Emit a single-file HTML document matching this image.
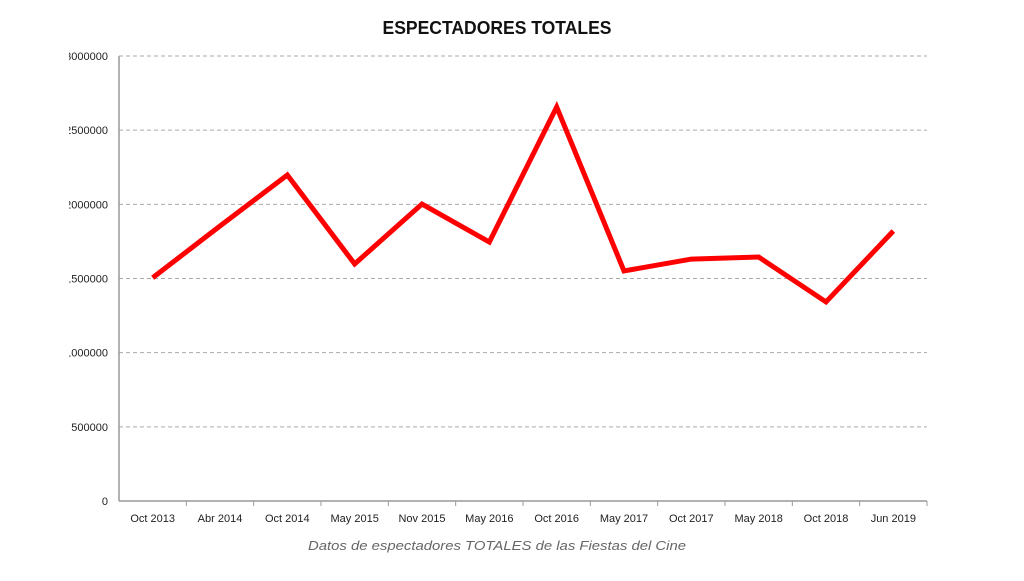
<!DOCTYPE html>
<html><head><meta charset="utf-8"><style>
body{margin:0;background:#fff;width:1024px;height:576px;overflow:hidden;font-family:"Liberation Sans",sans-serif}
</style></head><body>
<svg id="chart" width="1024" height="576" viewBox="0 0 1024 576">
<defs><clipPath id="clipL"><rect x="69" y="0" width="960" height="576"/></clipPath></defs>
<text x="497" y="34" text-anchor="middle" font-size="18" font-weight="bold" fill="#111" textLength="229" lengthAdjust="spacingAndGlyphs">ESPECTADORES TOTALES</text>
<g id="grid"></g>
<g id="yticks" clip-path="url(#clipL)"></g>
<g id="xticks"></g>
<line x1="119" y1="56" x2="119" y2="501" stroke="#999" stroke-width="1.5"/>
<line x1="119" y1="501" x2="927" y2="501" stroke="#999" stroke-width="1.5"/>
<g id="series"></g>
<text x="497" y="550" text-anchor="middle" font-size="13" font-style="italic" fill="#666" textLength="378" lengthAdjust="spacingAndGlyphs">Datos de espectadores TOTALES de las Fiestas del Cine</text>
</svg>
<script>
const categories=["Oct 2013","Abr 2014","Oct 2014","May 2015","Nov 2015","May 2016","Oct 2016","May 2017","Oct 2017","May 2018","Oct 2018","Jun 2019"];
const espectadores=[1505000,1854000,2198000,1598000,2002000,1746000,2656000,1551000,1631000,1645000,1342000,1820000];
const yTicks=[0,500000,1000000,1500000,2000000,2500000,3000000];
const yTickLabels=["0","500000","1000000","1500000","2000000","2500000","3000000"];
const NS="http://www.w3.org/2000/svg";
const x0=119,x1=927,yTop=56,yBot=501,yMax=3000000;
const step=(x1-x0)/categories.length;
const xs=i=>x0+step*(i+0.5);
const ys=v=>yBot-(v/yMax)*(yBot-yTop);
function mk(t,a,p){const e=document.createElementNS(NS,t);for(const k in a)e.setAttribute(k,a[k]);p.appendChild(e);return e;}
const grid=document.getElementById('grid'),yt=document.getElementById('yticks'),xt=document.getElementById('xticks'),ser=document.getElementById('series');
yTicks.forEach((v,i)=>{
 if(v>0){const l=mk('line',{x1:x0,x2:x1,y1:ys(v),y2:ys(v),stroke:'#aaa','stroke-dasharray':'4,3'},grid);
 
 }
 const t=mk('text',{x:108,y:ys(v)+4,'text-anchor':'end','font-size':'11',fill:'#222'},yt);
 t.textContent=yTickLabels[i];
 
 
});
categories.forEach((c,i)=>{
 const t=mk('text',{x:xs(i),y:522,'text-anchor':'middle','font-size':'11',fill:'#222'},xt);
 t.textContent=c;
 
 
 const tk=mk('line',{x1:x0+step*(i+1),x2:x0+step*(i+1),y1:501,y2:506,stroke:'#999'},xt);
 
 
});
const p=mk('polyline',{points:espectadores.map((v,i)=>xs(i)+','+ys(v)).join(' '),fill:'none',stroke:'#ff0000','stroke-width':'5','stroke-linejoin':'miter'},ser);


</script>
</body></html>
